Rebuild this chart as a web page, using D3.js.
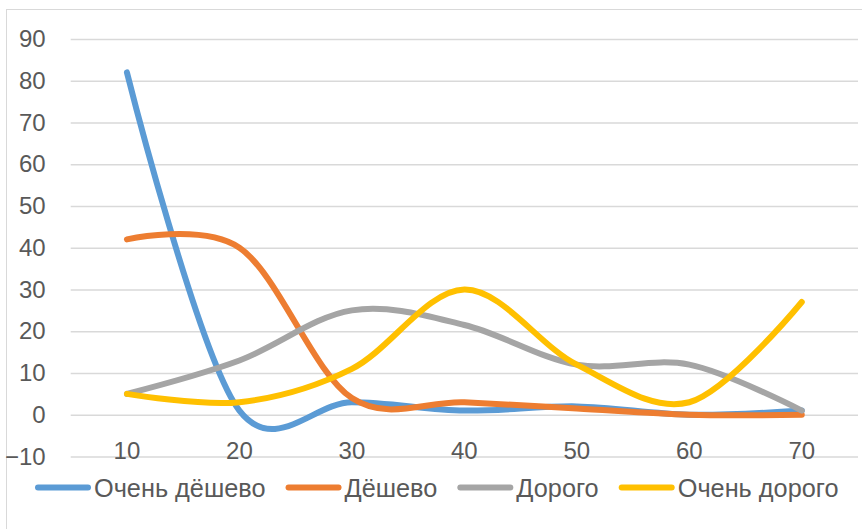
<!DOCTYPE html>
<html><head><meta charset="utf-8">
<script src="https://cdn.jsdelivr.net/npm/d3@7"></script>
<style>
html,body{margin:0;padding:0;background:#fff;}
svg{display:block;font-family:"Liberation Sans",Arial,sans-serif;}
</style></head>
<body><svg id="c" width="862" height="529"></svg>
<script>
const categories = ["10","20","30","40","50","60","70"];
const seriesNames = ["Очень дёшево","Дёшево","Дорого","Очень дорого"];
const veryCheap = [82, 1, 3, 1, 2, 0, 1];
const cheap = [42, 40, 4, 3, 1.5, 0, 0];
const expensive = [5, 13, 25, 21.5, 12, 12, 1];
const veryExpensive = [5, 3, 11, 30, 12, 3, 27];
const yTicks = [-10,0,10,20,30,40,50,60,70,80,90];
const colors = ["#5B9BD5","#ED7D31","#A5A5A5","#FFC000"];
const seriesValues = [veryCheap, cheap, expensive, veryExpensive];

const svg = d3.select("#c");
const plotL = 70.7, plotR = 858, plotT = 39, plotB = 456.5;

svg.append("rect").attr("x",6.5).attr("y",9.5).attr("width",880).attr("height",560)
  .attr("fill","none").attr("stroke","#d9d9d9").attr("stroke-width",1);

const x = d3.scaleBand().domain(categories).range([plotL,plotR]).paddingInner(0).paddingOuter(0);
const y = d3.scaleLinear().domain([-10,90]).range([plotB,plotT]);

const yAxis = svg.append("g").attr("transform",`translate(${plotL},0)`)
  .call(d3.axisLeft(y).tickValues(yTicks).tickSize(-(plotR-plotL)).tickPadding(25).tickFormat(d3.format("d")));
yAxis.select(".domain").remove();
yAxis.selectAll(".tick line").attr("stroke","#d9d9d9").attr("stroke-width",1.5);
yAxis.selectAll(".tick text").attr("fill","#595959").attr("font-size",24).attr("font-family","'Liberation Sans',Arial,sans-serif");

const xAxis = svg.append("g").attr("transform",`translate(0,${y(-10)-14})`)
  .call(d3.axisBottom(x).tickSize(0).tickPadding(0));
xAxis.select(".domain").remove();
xAxis.selectAll(".tick text").attr("fill","#595959").attr("font-size",24).attr("dy","0.7em")
  .attr("font-family","'Liberation Sans',Arial,sans-serif");

const line = d3.line()
  .x((d,i)=>x(categories[i])+x.bandwidth()/2)
  .y(d=>y(d))
  .curve(d3.curveCatmullRom.alpha(0.1));

seriesValues.forEach((vals,k)=>{
  svg.append("path").datum(vals).attr("d",line).attr("fill","none")
    .attr("stroke",colors[k]).attr("stroke-width",6)
    .attr("stroke-linecap","round").attr("stroke-linejoin","round");
});

// legend
const lg = svg.append("g");
let cx = 35;
const ly = 487.5;
seriesNames.forEach((name,k)=>{
  lg.append("line").attr("x1",cx+3).attr("x2",cx+53).attr("y1",ly).attr("y2",ly)
    .attr("stroke",colors[k]).attr("stroke-width",6).attr("stroke-linecap","round");
  const t = lg.append("text").attr("x",cx+59).attr("y",ly).attr("dy","0.36em")
    .attr("fill","#595959").attr("font-size",25.3).text(name);
  const w = t.node().getComputedTextLength();
  cx = cx + 59 + w + 20;
});
</script></body></html>
